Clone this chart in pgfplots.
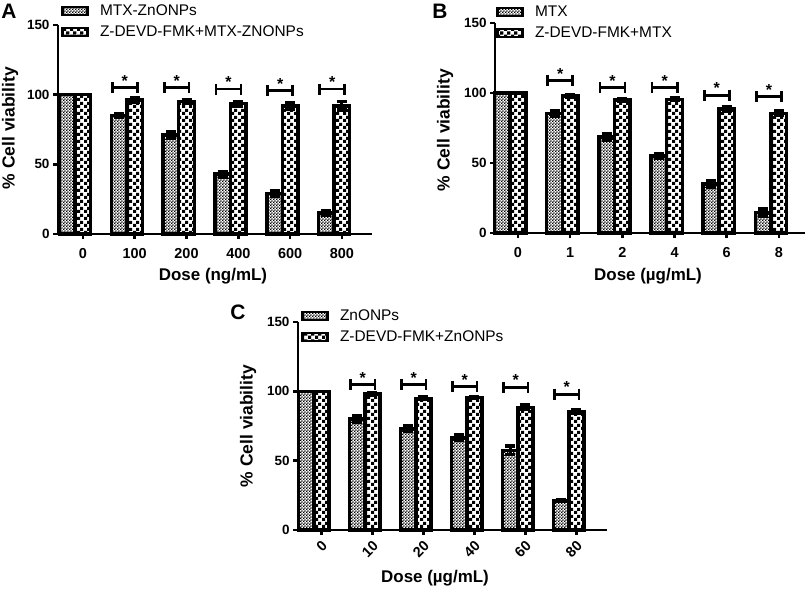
\documentclass[border=0pt]{standalone}
\usepackage{fontspec}
\setmainfont{Liberation Sans}
\usepackage{pgfplots}
\pgfplotsset{compat=1.18}
\usetikzlibrary{patterns}

% fine checker for the drug-only bars, coarse checker for the inhibitor bars
\pgfdeclarepatternformonly{finecheck}{\pgfpointorigin}{\pgfqpoint{3.2bp}{3.2bp}}{\pgfqpoint{3.2bp}{3.2bp}}{%
  \pgfpathrectangle{\pgfpointorigin}{\pgfqpoint{1.6bp}{1.6bp}}%
  \pgfpathrectangle{\pgfqpoint{1.6bp}{1.6bp}}{\pgfqpoint{1.6bp}{1.6bp}}%
  \pgfusepath{fill}}
\pgfdeclarepatternformonly{bigcheck}{\pgfpointorigin}{\pgfqpoint{7bp}{7bp}}{\pgfqpoint{7bp}{7bp}}{%
  \pgfpathrectangle{\pgfpointorigin}{\pgfqpoint{3.5bp}{3.5bp}}%
  \pgfpathrectangle{\pgfqpoint{3.5bp}{3.5bp}}{\pgfqpoint{3.5bp}{3.5bp}}%
  \pgfusepath{fill}}

\newcommand\fs[1]{\fontsize{#1}{#1}\selectfont}

\tikzset{sigstar/.style={font=\bfseries\fs{16}, anchor=south, inner sep=0pt, yshift=1bp}}

\pgfplotsset{
  panel/.style={
    scale only axis, anchor=south west,
    axis x line*=bottom, axis y line*=left,
    ymin=0, ymax=150, ytick={0,50,100,150},
    xtick={0.15,1.15,2.15,3.15,4.15,5.15},
    tick align=outside, major tick length=5bp,
    every tick/.style={black, line width=2.5bp},
    axis line style={line width=2.8bp},
    xticklabel style={font=\bfseries\fs{14.5}, yshift=-6bp},
    yticklabel style={font=\bfseries\fs{13.5}},
    /pgf/number format/assume math mode=true,
    clip=false,
    legend image code/.code={\draw[##1] (0bp,-4bp) rectangle (25bp,4bp);},
    legend cell align=left,
    legend style={draw=none, fill=none, font=\fs{15.5}, inner sep=0pt,
      row sep=5bp, column sep=10bp,
      nodes={inner sep=1bp, text height=11bp, text depth=3bp}},
  },
  % bars sit at their own x (group index -/+ 0.15), so error bars line up
  bars/.style={ybar, bar width=0.3, bar shift=0, draw=black, line width=3.5bp, forget plot,
    error bars/y dir=both, error bars/y explicit,
    error bars/error bar style={line width=3bp},
    error bars/error mark options={rotate=90, line width=3.5bp, mark size=5bp}},
  s1/.style={bars, pattern=finecheck},
  s2/.style={bars, pattern=bigcheck},
  brk/.style={black, line width=2.8bp, mark=|, mark size=5.5bp, forget plot},
  lg1/.style={draw=black, line width=2.8bp, pattern=finecheck},
  lg2/.style={draw=black, line width=2.8bp, pattern=bigcheck},
}

\begin{document}
\begin{tikzpicture}

% ---------------- A ----------------
\begin{axis}[panel, at={(58bp,-234bp)}, width=314bp, height=209bp,
  xmin=-0.33, xmax=5.73,
  xticklabels={0,100,200,400,600,800},
  legend style={at={(0,1)}, anchor=west, xshift=3bp, yshift=3.5bp}]
\addlegendimage{lg1}
\addlegendentry{MTX-ZnONPs}
\addlegendimage{lg2}
\addlegendentry{Z-DEVD-FMK+MTX-ZNONPs}
\addplot[s1] table[x=x, y=y, y error=e] {
x y e
-0.15 100 0
0.85 85 1.5
1.85 71 2.5
2.85 43 2
3.85 29 2
4.85 15 1.5
};
\addplot[s2] table[x=x, y=y, y error=e] {
x y e
0.15 100 0
1.15 96 1.5
2.15 95 1.5
3.15 93.5 1.5
4.15 92 2.5
5.15 92 3
};
\addplot[brk] coordinates {(0.72,105) (1.2,105)};
\addplot[brk] coordinates {(1.72,105) (2.2,105)};
\addplot[brk] coordinates {(2.72,104) (3.2,104)};
\addplot[brk] coordinates {(3.72,103) (4.2,103)};
\addplot[brk] coordinates {(4.72,104) (5.2,104)};
\node[sigstar] at (axis cs:0.96,105) {*};
\node[sigstar] at (axis cs:1.96,105) {*};
\node[sigstar] at (axis cs:2.96,104) {*};
\node[sigstar] at (axis cs:3.96,103) {*};
\node[sigstar] at (axis cs:4.96,104) {*};
\end{axis}

% ---------------- B ----------------
\begin{axis}[panel, at={(495bp,-233bp)}, width=310bp, height=210bp,
  xmin=-0.29, xmax=5.65,
  xticklabels={0,1,2,4,6,8},
  legend style={at={(0,1)}, anchor=west, xshift=1bp, yshift=0.5bp}]
\addlegendimage{lg1}
\addlegendentry{MTX}
\addlegendimage{lg2}
\addlegendentry{Z-DEVD-FMK+MTX}
\addplot[s1] table[x=x, y=y, y error=e] {
x y e
-0.15 100 0
0.85 85.5 2
1.85 68.5 2.5
2.85 55 1.5
3.85 35 2.5
4.85 14.5 2.5
};
\addplot[s2] table[x=x, y=y, y error=e] {
x y e
0.15 100 0
1.15 98 1
2.15 95 1
3.15 95.5 1
4.15 88.5 1.5
5.15 85.5 1.5
};
\addplot[brk] coordinates {(0.72,109) (1.2,109)};
\addplot[brk] coordinates {(1.72,104) (2.2,104)};
\addplot[brk] coordinates {(2.72,104) (3.2,104)};
\addplot[brk] coordinates {(3.72,98.5) (4.2,98.5)};
\addplot[brk] coordinates {(4.72,97.5) (5.2,97.5)};
\node[sigstar] at (axis cs:0.96,109) {*};
\node[sigstar] at (axis cs:1.96,104) {*};
\node[sigstar] at (axis cs:2.96,104) {*};
\node[sigstar] at (axis cs:3.96,98.5) {*};
\node[sigstar] at (axis cs:4.96,97.5) {*};
\end{axis}

% ---------------- C ----------------
\begin{axis}[panel, at={(298bp,-530bp)}, width=309bp, height=208bp,
  xmin=-0.31, xmax=5.75,
  xticklabels={0,10,20,40,60,80},
  xticklabel style={rotate=45, anchor=east, xshift=4bp, yshift=-4bp},
  legend style={at={(0,1)}, anchor=west, xshift=3bp, yshift=-4.5bp}]
\addlegendimage{lg1}
\addlegendentry{ZnONPs}
\addlegendimage{lg2}
\addlegendentry{Z-DEVD-FMK+ZnONPs}
\addplot[s1] table[x=x, y=y, y error=e] {
x y e
-0.15 100 0
0.85 80 2.5
1.85 73 2
2.85 66.5 2
3.85 57.5 3
4.85 21 0.5
};
\addplot[s2] table[x=x, y=y, y error=e] {
x y e
0.15 100 0
1.15 98 0.8
2.15 95 0.8
3.15 95.5 0.8
4.15 88.5 1.5
5.15 85.5 1.2
};
\addplot[brk] coordinates {(0.72,105) (1.2,105)};
\addplot[brk] coordinates {(1.72,105) (2.2,105)};
\addplot[brk] coordinates {(2.72,103.5) (3.2,103.5)};
\addplot[brk] coordinates {(3.72,103) (4.2,103)};
\addplot[brk] coordinates {(4.72,98) (5.2,98)};
\node[sigstar] at (axis cs:0.96,105) {*};
\node[sigstar] at (axis cs:1.96,105) {*};
\node[sigstar] at (axis cs:2.96,103.5) {*};
\node[sigstar] at (axis cs:3.96,103) {*};
\node[sigstar] at (axis cs:4.96,98) {*};
\end{axis}

% panel letters and axis titles
\node[font=\bfseries\fs{21}] at (9bp,-11bp) {A};
\node[font=\bfseries\fs{21}] at (440bp,-11bp) {B};
\node[font=\bfseries\fs{21}] at (238bp,-312bp) {C};
\node[font=\bfseries\fs{17}] at (213bp,-276bp) {Dose (ng/mL)};
\node[font=\bfseries\fs{17}] at (648bp,-276bp) {Dose (µg/mL)};
\node[font=\bfseries\fs{17}] at (435bp,-578bp) {Dose (µg/mL)};
\node[font=\bfseries\fs{17.5}, rotate=90] at (10bp,-128bp) {\% Cell viability};
\node[font=\bfseries\fs{17.5}, rotate=90] at (445bp,-130bp) {\% Cell viability};
\node[font=\bfseries\fs{17.5}, rotate=90] at (248bp,-426bp) {\% Cell viability};

\pgfresetboundingbox
\path (0,0) rectangle (809bp,-591bp);
\end{tikzpicture}
\end{document}
